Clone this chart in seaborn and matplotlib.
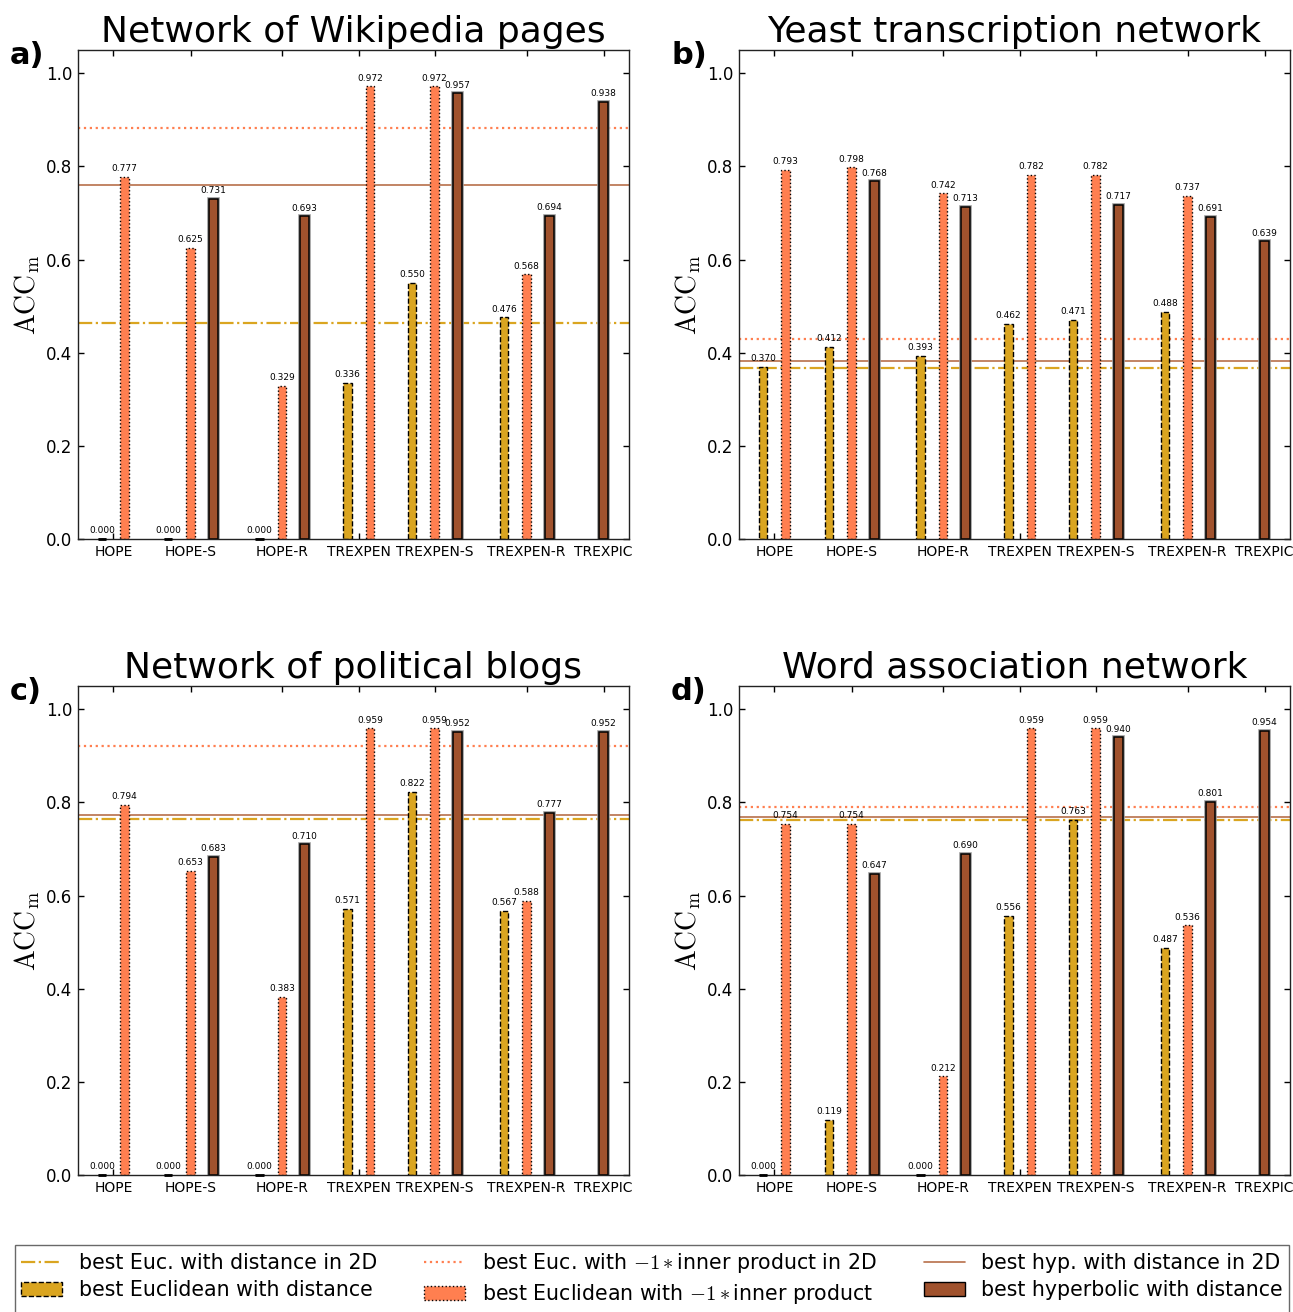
import numpy as np
import pandas as pd
import matplotlib
matplotlib.use("Agg")
import matplotlib.pyplot as plt
import matplotlib.patheffects as pe
from matplotlib.colors import to_rgba
from matplotlib.lines import Line2D
from matplotlib.patches import Patch
import seaborn as sns

nan = np.nan

methods = ["HOPE", "HOPE-S", "HOPE-R", "TREXPEN", "TREXPEN-S", "TREXPEN-R", "TREXPIC"]
titles = ["Network of Wikipedia pages", "Yeast transcription network",
          "Network of political blogs", "Word association network"]
panel_tags = ["a)", "b)", "c)", "d)"]

# best Euclidean with distance / with -1*inner product / best hyperbolic with distance
wiki_euc = [0.000, 0.000, 0.000, 0.336, 0.550, 0.476, nan]
wiki_ip = [0.777, 0.625, 0.329, 0.972, 0.972, 0.568, nan]
wiki_hyp = [nan, 0.731, 0.693, nan, 0.957, 0.694, 0.938]
wiki_2d = [0.464, 0.882, 0.760]

yeast_euc = [0.370, 0.412, 0.393, 0.462, 0.471, 0.488, nan]
yeast_ip = [0.793, 0.798, 0.742, 0.782, 0.782, 0.737, nan]
yeast_hyp = [nan, 0.768, 0.713, nan, 0.717, 0.691, 0.639]
yeast_2d = [0.367, 0.429, 0.382]

blogs_euc = [0.000, 0.000, 0.000, 0.571, 0.822, 0.567, nan]
blogs_ip = [0.794, 0.653, 0.383, 0.959, 0.959, 0.588, nan]
blogs_hyp = [nan, 0.683, 0.710, nan, 0.952, 0.777, 0.952]
blogs_2d = [0.764, 0.921, 0.773]

words_euc = [0.000, 0.119, 0.000, 0.556, 0.763, 0.487, nan]
words_ip = [0.754, 0.754, 0.212, 0.959, 0.959, 0.536, nan]
words_hyp = [nan, 0.647, 0.690, nan, 0.940, 0.801, 0.954]
words_2d = [0.762, 0.790, 0.768]

panels = [
    (wiki_euc, wiki_ip, wiki_hyp, wiki_2d),
    (yeast_euc, yeast_ip, yeast_hyp, yeast_2d),
    (blogs_euc, blogs_ip, blogs_hyp, blogs_2d),
    (words_euc, words_ip, words_hyp, words_2d),
]

series = ["euc", "ip", "hyp"]
colors = {"euc": "#DAA520", "ip": "#FF7F50", "hyp": "#A0522D"}
edge_ls = {"euc": "--", "ip": ":", "hyp": "-"}
line_ls = {"euc": "-.", "ip": ":", "hyp": "-"}
line_col = {"euc": "#DAA520", "ip": "#FF7F50", "hyp": "#B8704A"}

# layout: method group centres (in units of one bar slot) and axis extent
group_centers = [0.0, 3.41, 7.45, 10.83, 14.19, 18.25, 21.65]
x_extent = (-1.56, 22.77)

sns.set_theme(style="ticks")
plt.rcParams["font.family"] = ["DejaVu Sans"]
plt.rcParams["mathtext.fontset"] = "cm"
plt.rcParams["text.color"] = "black"
plt.rcParams["axes.labelcolor"] = "black"
plt.rcParams["xtick.color"] = "black"
plt.rcParams["ytick.color"] = "black"

W, H = 1293, 1312
fig = plt.figure(figsize=(W / 100, H / 100), dpi=100)

axes_px = [(78, 50), (739, 50), (78, 686), (739, 686)]
aw, ah = 551, 489

for idx, (euc, ip, hyp, lines2d) in enumerate(panels):
    left, top = axes_px[idx]
    ax = fig.add_axes([left / W, 1 - (top + ah) / H, aw / W, ah / H])

    rows = []
    for i, m in enumerate(methods):
        present = [(s, v) for s, v in zip(series, (euc[i], ip[i], hyp[i])) if not np.isnan(v)]
        n = len(present)
        for k, (s, v) in enumerate(present):
            rows.append({"pos": group_centers[i] + k - (n - 1) / 2, "acc": v, "series": s})
    df = pd.DataFrame(rows)

    sns.barplot(data=df, x="pos", y="acc", hue="series", hue_order=series,
                palette=colors, native_scale=True, dodge=False, width=0.38,
                errorbar=None, saturation=1, legend=False, ax=ax)

    face_to_series = {to_rgba(colors[s]): s for s in series}
    for p in ax.patches:
        fc = tuple(np.round(p.get_facecolor(), 4))
        s = None
        for key, name in face_to_series.items():
            if np.allclose(fc, key, atol=1e-3):
                s = name
        if s is None:
            continue
        p.set_edgecolor("black")
        p.set_linestyle(edge_ls[s])
        p.set_linewidth(1.0)
        if s == "hyp":
            p.set_linewidth(1.1)
            p.set_path_effects([pe.Stroke(linewidth=2.6, foreground="#9a9a9a"), pe.Normal()])
        h = p.get_height()
        ax.text(p.get_x() + p.get_width() / 2, h + 0.008, f"{h:.3f}",
                ha="center", va="bottom", fontsize=6.5, color="black")
        if h == 0:
            ax.plot([p.get_x(), p.get_x() + p.get_width()], [0, 0], color="black",
                    lw=2.0, solid_capstyle="butt", zorder=3, clip_on=False)

    for s, v in zip(series, lines2d):
        ax.axhline(v, color=line_col[s], ls=line_ls[s], lw=1.6 if s != "hyp" else 1.2, zorder=0.5)

    ax.set_xlim(*x_extent)
    ax.set_ylim(0, 1.05)
    ax.set_xticks(group_centers)
    ax.set_xticklabels(methods, fontsize=10)
    ax.set_yticks([0.0, 0.2, 0.4, 0.6, 0.8, 1.0])
    ax.set_yticklabels(["0.0", "0.2", "0.4", "0.6", "0.8", "1.0"], fontsize=12)
    ax.tick_params(direction="in", top=True, right=True, length=4, width=1, pad=4, color="black")
    ax.set_xlabel("")
    ax.set_ylabel(r"$\mathrm{ACC_m}$", fontsize=20, labelpad=3)
    for sp in ax.spines.values():
        sp.set_color("#222222")
        sp.set_linewidth(1.0)
    ax.set_title(titles[idx], fontsize=26, pad=6, color="black")

    fig.text((left - 68) / W, 1 - (top + 5) / H, panel_tags[idx], fontsize=22,
             fontweight="bold", ha="left", va="center")

handles = []
labels = []
names_2d = ["best Euc. with distance in 2D", r"best Euc. with $-1*$inner product in 2D",
            "best hyp. with distance in 2D"]
names_bar = ["best Euclidean with distance", r"best Euclidean with $-1*$inner product",
             "best hyperbolic with distance"]
for s, n2, nb in zip(series, names_2d, names_bar):
    handles.append(Line2D([], [], color=line_col[s], ls=line_ls[s], lw=1.6 if s != "hyp" else 1.2))
    labels.append(n2)
    bar_patch = Patch(facecolor=colors[s], edgecolor="black", linestyle=edge_ls[s], linewidth=1.0)
    handles.append(bar_patch)
    labels.append(nb)

leg = fig.legend(handles, labels, ncol=3, loc="upper left",
                 bbox_to_anchor=(15 / W, 1 - 1245 / H), fontsize=14.8,
                 frameon=True, fancybox=False, borderaxespad=0,
                 handlelength=2.0, columnspacing=2.3, labelspacing=0.35,
                 borderpad=0.3)
leg.get_frame().set_edgecolor("#444444")
leg.get_frame().set_linewidth(1.0)

fig.savefig("out.png", dpi=100)
